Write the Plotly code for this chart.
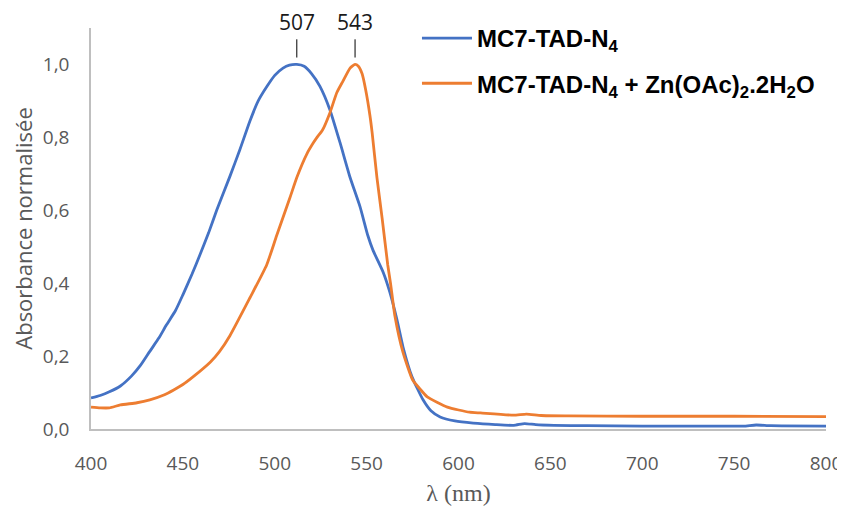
import plotly.graph_objects as go

# Wavelengths (nm) and normalised absorbance, series 1: MC7-TAD-N4
wl_free = [400, 405, 410, 416, 422, 427, 432, 437, 441, 446, 450, 455, 459.3, 464, 468.4,
           475.6, 481, 486.5, 491, 495.8, 500, 504.5, 508, 512, 516, 520, 524.6, 530, 535.5,
           541, 546.4, 550.7, 553.5, 559, 562.7, 566.5, 569.8, 574.7, 580.7, 585, 590, 598,
           608, 620, 630, 636, 642, 652, 670, 700, 730, 755, 762, 770, 800]
abs_free = [0.085, 0.092, 0.102, 0.118, 0.145, 0.175, 0.213, 0.250, 0.285, 0.325, 0.368,
            0.425, 0.478, 0.538, 0.600, 0.693, 0.766, 0.845, 0.900, 0.940, 0.970, 0.990,
            0.998, 1.000, 0.995, 0.975, 0.940, 0.876, 0.786, 0.690, 0.610, 0.530, 0.490,
            0.430, 0.374, 0.300, 0.225, 0.143, 0.080, 0.050, 0.033, 0.022, 0.016, 0.012,
            0.010, 0.015, 0.012, 0.010, 0.009, 0.008, 0.008, 0.008, 0.011, 0.009, 0.008]

# Series 2: MC7-TAD-N4 + Zn(OAc)2.2H2O
wl_zn = [400, 405, 410, 416, 425, 432, 440, 445, 450, 455.5, 465, 470, 475.6, 486.5, 495.6,
         501, 508.3, 512, 517.5, 521, 523, 526, 530, 533.8, 537, 541, 543.7, 545.5, 547.5,
         549.5, 551.8, 553, 555.6, 558.4, 561.5, 563, 565.4, 569.8, 575, 579, 583, 594, 606,
         612, 630, 637, 645, 660, 700, 750, 800]
abs_zn = [0.060, 0.058, 0.058, 0.066, 0.072, 0.080, 0.094, 0.107, 0.122, 0.143, 0.184, 0.213,
          0.256, 0.360, 0.450, 0.530, 0.635, 0.690, 0.755, 0.785, 0.800, 0.820, 0.867, 0.923,
          0.953, 0.990, 1.000, 0.995, 0.975, 0.930, 0.860, 0.813, 0.690, 0.580, 0.450, 0.400,
          0.310, 0.210, 0.135, 0.110, 0.088, 0.060, 0.046, 0.044, 0.038, 0.041, 0.037, 0.036,
          0.035, 0.035, 0.034]

peak_labels = ["507", "543"]
peak_x = [512, 543.7]

x_ticks = [400, 450, 500, 550, 600, 650, 700, 750, 800]
y_ticks = [0.0, 0.2, 0.4, 0.6, 0.8, 1.0]

fig = go.Figure()
fig.add_trace(go.Scatter(x=wl_free, y=abs_free, mode="lines", name="MC7-TAD-N<sub>4</sub>",
                         line=dict(color="#4472C4", width=2.8, shape="spline", smoothing=0.5),
                         legendgroup="a"))
fig.add_trace(go.Scatter(x=wl_zn, y=abs_zn, mode="lines",
                         name="MC7-TAD-N<sub>4</sub> + Zn(OAc)<sub>2</sub>.2H<sub>2</sub>O",
                         line=dict(color="#ED7D31", width=2.8, shape="spline", smoothing=0.5),
                         legendgroup="b"))

for lbl, px in zip(peak_labels, peak_x):
    fig.add_shape(type="line", x0=px, x1=px, y0=1.019, y1=1.069, xref="x", yref="y",
                  line=dict(color="black", width=1))
    fig.add_annotation(x=px, y=1.014, xref="x", yref="paper", text=lbl, showarrow=False,
                       yanchor="middle",
                       font=dict(family="Open Sans", size=21, color="#1a1a1a"))

gray = "#595959"
# the page body adds an 8 px offset, so the figure is 8 px smaller than the window
fig.update_layout(
    width=837, height=498,
    margin=dict(l=83, r=19, t=20, b=77, autoexpand=False),
    paper_bgcolor="white", plot_bgcolor="white",
    separators=", ",
    showlegend=True,
    legend=dict(x=0.4435, y=0.984, xref="paper", yref="container", xanchor="left",
                yanchor="top", itemwidth=50,
                font=dict(family="Liberation Sans", size=24, color="black", weight="bold"),
                tracegroupgap=11, bgcolor="rgba(0,0,0,0)"),
    xaxis=dict(range=[400, 800], tickvals=x_ticks, showgrid=False, zeroline=False,
               showline=True, linecolor="#BFBFBF", linewidth=1.5, ticks="",
               automargin=False, ticklabelstandoff=16,
               tickfont=dict(family="Open Sans", size=19, color=gray),
               title=dict(text="λ (nm)", font=dict(family="Liberation Serif", size=24, color=gray),
                          standoff=10)),
    yaxis=dict(range=[0, 1.1], tickvals=y_ticks, tickformat=".1f", showgrid=False,
               zeroline=False, showline=True, linecolor="#BFBFBF", linewidth=1.5, ticks="",
               automargin=False, ticklabelstandoff=16,
               tickfont=dict(family="Open Sans", size=19, color=gray),
               title=dict(text="Absorbance normalisée",
                          font=dict(family="Open Sans", size=22, color=gray), standoff=8)),
)

fig.write_html("out.html")
